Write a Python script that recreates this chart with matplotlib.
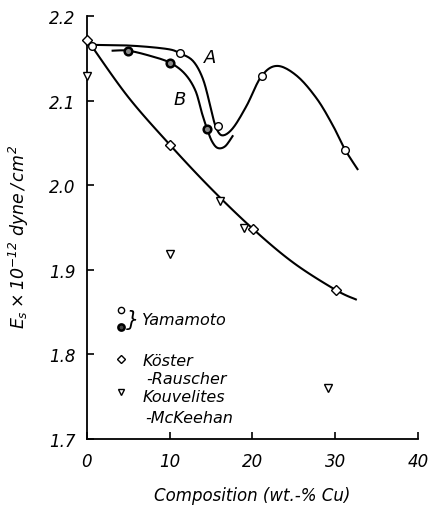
"""Young's modulus E_s of Ag-Cu alloys against copper content."""

import matplotlib
matplotlib.use("Agg")
import matplotlib.pyplot as plt
import numpy as np

plt.rcParams["font.family"] = "DejaVu Sans"
plt.rcParams["font.style"] = "italic"
plt.rcParams["mathtext.fontset"] = "custom"
plt.rcParams["mathtext.rm"] = "DejaVu Sans:italic"
plt.rcParams["mathtext.it"] = "DejaVu Sans:italic"

# measured points
yam_open_x = [0.6, 11.2, 15.8, 21.2, 31.2]
yam_open_y = [2.164, 2.156, 2.070, 2.129, 2.042]
yam_dot_x = [5.0, 10.0, 14.5]
yam_dot_y = [2.159, 2.145, 2.067]
koster_x = [0.0, 10.0, 20.1, 30.1]
koster_y = [2.172, 2.048, 1.948, 1.876]
kouv_x = [0.0, 10.0, 16.1, 19.0, 29.1]
kouv_y = [2.129, 1.919, 1.981, 1.949, 1.760]

# hand-drawn curves
curve_a_x = [0.0, 5.2, 9.7, 11.2, 12.8, 14.0, 14.9, 15.5, 16.3, 17.6, 19.3,
             21.1, 23.0, 25.4, 27.8, 29.7, 31.2, 32.7]
curve_a_y = [2.166, 2.165, 2.161, 2.156, 2.147, 2.126, 2.094, 2.071, 2.059,
             2.067, 2.094, 2.129, 2.141, 2.129, 2.102, 2.071, 2.042, 2.019]
curve_b_x = [3.1, 5.0, 7.6, 10.0, 11.8, 13.1, 13.9, 14.5, 15.1, 15.8, 16.7,
             17.6]
curve_b_y = [2.159, 2.159, 2.153, 2.145, 2.132, 2.112, 2.085, 2.067, 2.052,
             2.044, 2.046, 2.058]
curve_k_x = [0.6, 5.0, 10.0, 15.0, 20.1, 25.0, 30.1, 32.5]
curve_k_y = [2.164, 2.104, 2.048, 1.996, 1.948, 1.908, 1.876, 1.865]

x_ticks = [0, 10, 20, 30, 40]
y_ticks = [1.7, 1.8, 1.9, 2.0, 2.1, 2.2]


def smooth(xs, ys, n=12):
    """Catmull-Rom pass through the traced points."""
    p = np.column_stack([xs, ys])
    p = np.vstack([p[0], p, p[-1]])
    out = []
    t = np.linspace(0, 1, n, endpoint=False)[:, None]
    for i in range(1, len(p) - 2):
        p0, p1, p2, p3 = p[i - 1], p[i], p[i + 1], p[i + 2]
        seg = 0.5 * (2 * p1 + (-p0 + p2) * t
                     + (2 * p0 - 5 * p1 + 4 * p2 - p3) * t ** 2
                     + (-p0 + 3 * p1 - 3 * p2 + p3) * t ** 3)
        out.append(seg)
    out.append(p[-2][None, :])
    out = np.vstack(out)
    return out[:, 0], out[:, 1]


fig = plt.figure(figsize=(4.36, 5.06), dpi=100)
ax = fig.add_axes([0.1995, 0.1304, 0.759, 0.836])

for cx, cy in [(curve_a_x, curve_a_y), (curve_b_x, curve_b_y),
               (curve_k_x, curve_k_y)]:
    sx, sy = smooth(cx, cy)
    ax.plot(sx, sy, color="black", linewidth=1.5, clip_on=False, zorder=2)

ax.plot(yam_open_x, yam_open_y, "o", ms=5.5, mfc="white", mec="black",
        mew=1.0, clip_on=False, zorder=3)
ax.plot(yam_dot_x, yam_dot_y, "o", ms=5.5, mfc="#888888", mec="black",
        mew=1.8, clip_on=False, zorder=3)
ax.plot(koster_x, koster_y, "D", ms=5.5, mfc="white", mec="black",
        mew=1.0, clip_on=False, zorder=3)
ax.plot(kouv_x, kouv_y, "v", ms=5.5, mfc="white", mec="black",
        mew=1.0, clip_on=False, zorder=3)

ax.text(14.9, 2.152, "A", fontsize=13, ha="center", va="center")
ax.text(11.2, 2.102, "B", fontsize=13, ha="center", va="center")

# key drawn inside the axes
ax.plot([4.1], [1.853], "o", ms=4.5, mfc="white", mec="black", mew=1.0)
ax.plot([4.1], [1.832], "o", ms=4.5, mfc="#444444", mec="black", mew=1.8)
ax.text(4.7, 1.842, "}", fontsize=15, ha="left", va="center")
ax.text(6.7, 1.841, "Yamamoto", fontsize=11.5, ha="left", va="center")
ax.plot([4.1], [1.794], "D", ms=4.5, mfc="white", mec="black", mew=1.0)
ax.text(6.7, 1.793, "Köster", fontsize=11.5, ha="left", va="center")
ax.text(7.2, 1.771, "-Rauscher", fontsize=11.5, ha="left", va="center")
ax.plot([4.1], [1.755], "v", ms=5, mfc="white", mec="black", mew=1.0)
ax.text(6.7, 1.750, "Kouvelites", fontsize=11.5, ha="left", va="center")
ax.text(7.0, 1.726, "-McKeehan", fontsize=11.5, ha="left", va="center")

ax.set_xlim(0, 40)
ax.set_ylim(1.7, 2.2)
ax.set_xticks(x_ticks)
ax.set_yticks(y_ticks)
ax.set_xticklabels([str(v) for v in x_ticks])
ax.set_yticklabels([f"{v:.1f}" for v in y_ticks])
ax.tick_params(direction="in", length=5, width=1.2, labelsize=12,
               colors="black")
ax.tick_params(axis="x", pad=9)
ax.tick_params(axis="y", pad=8)
for s in ("top", "right"):
    ax.spines[s].set_visible(False)
for s in ("left", "bottom"):
    ax.spines[s].set_linewidth(1.3)

ax.set_xlabel("Composition (wt.-% Cu)", fontsize=12, labelpad=12)
ax.set_ylabel(r"$E_s\times10^{-12}\ dyne\,/\,cm^2$", fontsize=12.5,
              labelpad=4)
ax.yaxis.set_label_coords(-0.17, 0.48)

fig.savefig("out.png", dpi=100)
